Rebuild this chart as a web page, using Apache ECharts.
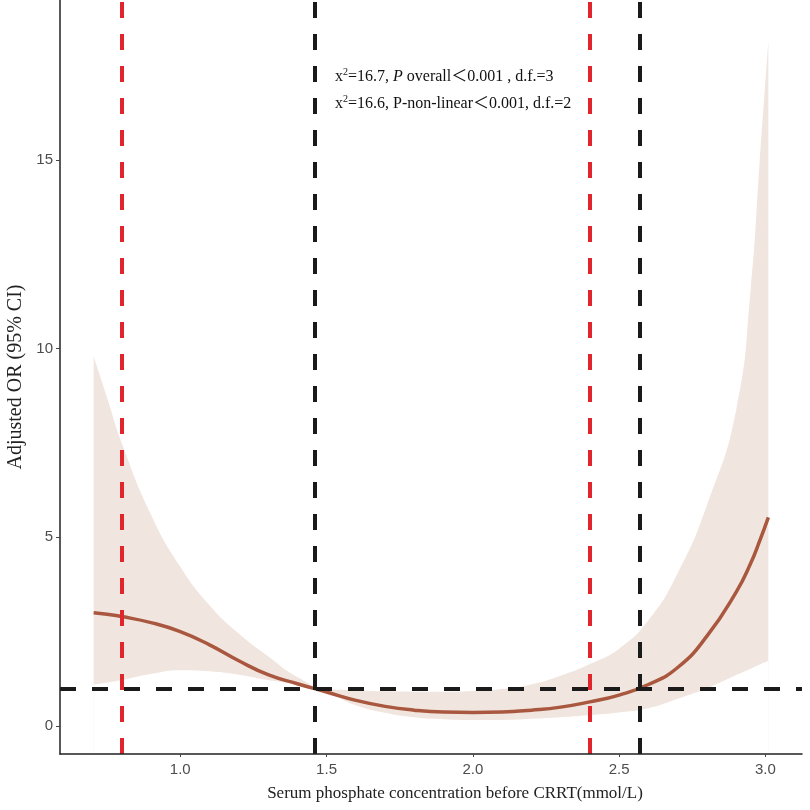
<!DOCTYPE html>
<html>
<head>
<meta charset="utf-8">
<script src="https://cdn.jsdelivr.net/npm/echarts@6/dist/echarts.min.js"></script>
<style>
  html, body { margin: 0; padding: 0; background: #fff; }
  #chart { width: 810px; height: 810px; }
</style>
</head>
<body>
<div id="chart"></div>
<script>
// serum phosphate (mmol/L)
var phosphate = [0.704, 0.75, 0.8, 0.9, 1.0, 1.1, 1.2, 1.3, 1.4, 1.5, 1.6, 1.7, 1.8, 1.9, 2.0,
    2.1, 2.2, 2.3, 2.4, 2.5, 2.6, 2.7, 2.8, 2.9, 2.95, 2.98, 3.01];
// adjusted OR
var oddsRatio = [3.00, 2.96, 2.90, 2.74, 2.50, 2.15, 1.73, 1.36, 1.12, 0.90, 0.68, 0.52, 0.42, 0.37, 0.36,
    0.37, 0.42, 0.50, 0.64, 0.82, 1.10, 1.55, 2.38, 3.55, 4.32, 4.90, 5.53];
// 95% CI
var ciLower = [1.09, 1.15, 1.22, 1.38, 1.48, 1.45, 1.36, 1.22, 1.10, 0.88, 0.55, 0.35, 0.23, 0.18, 0.16,
    0.16, 0.19, 0.23, 0.29, 0.36, 0.47, 0.72, 1.00, 1.35, 1.52, 1.63, 1.73];
var ciUpper = [9.79, 8.70, 7.50, 5.60, 4.22, 3.20, 2.45, 1.85, 1.30, 0.99, 0.95, 0.92, 0.91, 0.91, 0.93,
    0.98, 1.10, 1.33, 1.64, 2.05, 2.80, 4.05, 5.85, 8.37, 11.6, 14.9, 18.15];

var redCuts = [0.8, 2.4];
var blackCuts = [1.46, 2.57];
var refOR = 1;

var xTicks = [1.0, 1.5, 2.0, 2.5, 3.0];
var yTicks = [0, 5, 10, 15];

var dom = document.getElementById('chart');
var myChart = echarts.init(dom);

var orData = [], upperData = [], lowerData = [];
for (var i = 0; i < phosphate.length; i++) {
    orData.push([phosphate[i], oddsRatio[i]]);
    upperData.push([phosphate[i], ciUpper[i]]);
    lowerData.push([phosphate[i], ciLower[i]]);
}

var dashType = [16, 16];
var dashWidth = 4;
var markData = [];
redCuts.forEach(function (v) {
    markData.push({ xAxis: v, lineStyle: { color: '#e0252d', type: dashType, width: dashWidth } });
});
blackCuts.forEach(function (v) {
    markData.push({ xAxis: v, lineStyle: { color: '#1a1a1a', type: dashType, width: dashWidth } });
});
markData.push({ yAxis: refOR, lineStyle: { color: '#1a1a1a', type: dashType, width: dashWidth } });

var tickLabel = { color: '#4d4d4d', fontSize: 15, fontFamily: 'Liberation Sans' };
var serif = '"Liberation Serif", "Noto Sans CJK SC"';
var SMOOTH = 0.5;

var option = {
    animation: false,
    backgroundColor: '#fff',
    grid: { left: 60, right: 8, top: 0, bottom: 56, outerBoundsMode: 'none' },
    xAxis: {
        type: 'value',
        z: 10,
        min: 0.589,
        max: 3.125,
        name: 'Serum phosphate concentration before CRRT(mmol/L)',
        nameLocation: 'middle',
        nameGap: 31,
        nameTextStyle: { fontFamily: 'Liberation Serif', fontSize: 17, color: '#222', padding: [0, 0, 0, 48] },
        axisLine: { onZero: false, lineStyle: { color: '#222', width: 1.5 } },
        axisTick: { length: 3, lineStyle: { color: '#444' }, customValues: xTicks },
        axisLabel: Object.assign({ margin: 8, customValues: xTicks, formatter: function (v) { return v.toFixed(1); } }, tickLabel),
        splitLine: { show: false }
    },
    yAxis: {
        type: 'value',
        z: 10,
        min: -0.742,
        max: 19.24,
        name: 'Adjusted OR (95% CI)',
        nameLocation: 'middle',
        nameGap: 34,
        nameTextStyle: { fontFamily: 'Liberation Serif', fontSize: 20, color: '#222' },
        axisLine: { show: true, onZero: false, lineStyle: { color: '#222', width: 1.5 } },
        axisTick: { show: true, length: 4, lineStyle: { color: '#444' }, customValues: yTicks },
        axisLabel: Object.assign({ margin: 7, customValues: yTicks }, tickLabel),
        splitLine: { show: false }
    },
    graphic: [{
        type: 'text',
        left: 335,
        top: 63,
        z: 10,
        style: {
            text: '{t|x}{sup|2}{t|=16.7, }{it|P}{t| overall＜0.001 , d.f.=3}\n{t|x}{sup|2}{t|=16.6, P-non-linear＜0.001, d.f.=2}',
            fill: '#111',
            font: '16px ' + serif,
            lineHeight: 27,
            rich: {
                t: { fontFamily: serif, fontSize: 16, fill: '#111', lineHeight: 27 },
                it: { fontFamily: serif, fontSize: 16, fontStyle: 'italic', fill: '#111', lineHeight: 27 },
                sup: { fontFamily: serif, fontSize: 10, fill: '#111', verticalAlign: 'top', lineHeight: 27, padding: [4, 0, 0, 0] }
            }
        }
    }],
    series: [
        {
            // upper CI filled down to the axis
            name: 'upper',
            type: 'line',
            data: upperData,
            showSymbol: false,
            smooth: SMOOTH,
            lineStyle: { width: 0, opacity: 0 },
            areaStyle: { color: '#f0e5df', opacity: 1, origin: 'start' },
            silent: true,
            z: 1
        },
        {
            // lower CI masks the fill below it
            name: 'lower',
            type: 'line',
            data: lowerData,
            showSymbol: false,
            smooth: SMOOTH,
            lineStyle: { width: 0, opacity: 0 },
            areaStyle: { color: '#ffffff', opacity: 1, origin: 'start' },
            silent: true,
            z: 2
        },
        {
            name: 'OR',
            type: 'line',
            data: orData,
            showSymbol: false,
            smooth: SMOOTH,
            lineStyle: { color: '#a9583f', width: 3.5 },
            z: 3,
            markLine: {
                silent: true,
                symbol: ['none', 'none'],
                label: { show: false },
                data: markData,
                z: 5
            }
        }
    ]
};

myChart.setOption(option);
</script>
</body>
</html>
